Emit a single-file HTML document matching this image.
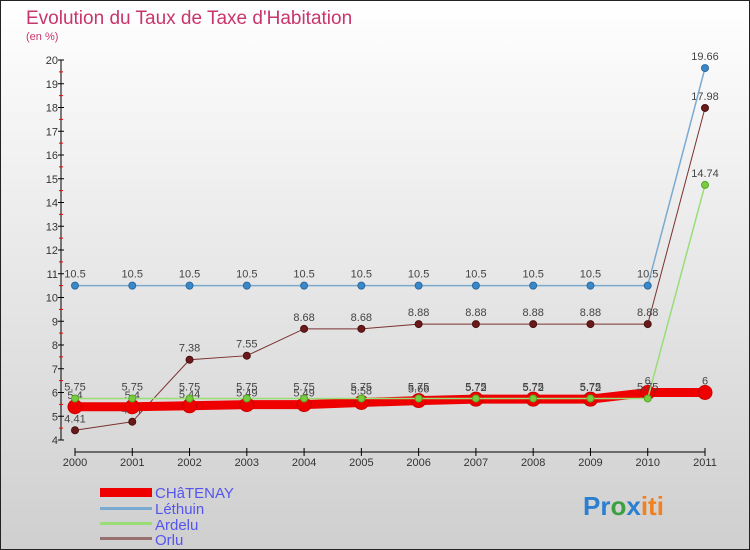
<!DOCTYPE html>
<html><head><meta charset="utf-8"><style>
body{margin:0;width:750px;height:550px;overflow:hidden;font-family:"Liberation Sans",sans-serif}
svg{display:block}
</style></head><body>
<svg id="chart" width="750" height="550" xmlns="http://www.w3.org/2000/svg">
<defs><linearGradient id="bg" x1="0" y1="0" x2="0" y2="1"><stop offset="0" stop-color="#ffffff"/><stop offset="1" stop-color="#cfcfcf"/></linearGradient></defs>
<rect x="0.5" y="0.5" width="749" height="549" fill="url(#bg)" stroke="#222" stroke-width="1"/>
<text x="26" y="24" font-size="19" fill="#c8356c">Evolution du Taux de Taxe d'Habitation</text>
<text x="26" y="40" font-size="11" fill="#c8356c">(en %)</text>
<g id="axes"></g>
<g id="series"></g>
<g id="legend">
<rect x="100" y="488" width="52" height="9" fill="#e00"/>
<text x="155" y="498" font-size="15" fill="#5555ee">CHâTENAY</text>
<rect x="100" y="507" width="52" height="3" fill="#7aaad0"/>
<text x="155" y="514" font-size="15" fill="#5555ee">Léthuin</text>
<rect x="100" y="522" width="52" height="3" fill="#99dd77"/>
<text x="155" y="530" font-size="15" fill="#5555ee">Ardelu</text>
<rect x="100" y="537" width="52" height="3" fill="#997070"/>
<text x="155" y="545" font-size="15" fill="#5555ee">Orlu</text>
</g>
<g font-size="26" font-weight="bold">
<text x="583" y="515"><tspan fill="#2a7fd0">Pr</tspan><tspan fill="#3aa040">o</tspan><tspan fill="#2a7fd0">x</tspan><tspan fill="#f08020">iti</tspan></text>
</g>
</svg>
<script>
const years=[2000,2001,2002,2003,2004,2005,2006,2007,2008,2009,2010,2011];
const chatenay=[5.4,5.4,5.44,5.49,5.49,5.58,5.66,5.72,5.72,5.72,6,6];
const lethuin=[10.5,10.5,10.5,10.5,10.5,10.5,10.5,10.5,10.5,10.5,10.5,19.66];
const ardelu=[5.75,5.75,5.75,5.75,5.75,5.75,5.75,5.75,5.75,5.75,5.75,14.74];
const orlu=[4.41,4.77,7.38,7.55,8.68,8.68,8.88,8.88,8.88,8.88,8.88,17.98];
const yTicks=[4,5,6,7,8,9,10,11,12,13,14,15,16,17,18,19,20];
const NS="http://www.w3.org/2000/svg";
const xs=i=>75+i*(630/(years.length-1));
const ys=v=>440-(v-4)*23.75;
function mk(tag,attrs,parent){const e=document.createElementNS(NS,tag);for(const k in attrs)e.setAttribute(k,attrs[k]);parent.appendChild(e);return e;}
const ax=document.getElementById('axes'),sr=document.getElementById('series');
let e=mk('line',{x1:61,y1:ys(20),x2:61,y2:ys(4),stroke:'#000'},ax);


yTicks.forEach(t=>{mk('line',{x1:58,x2:64,y1:ys(t),y2:ys(t),stroke:'#000'},ax);
 if(t<20)mk('line',{x1:59,x2:63,y1:ys(t+0.5),y2:ys(t+0.5),stroke:'#e00'},ax);
 const l=mk('text',{x:58,y:ys(t)+4,'text-anchor':'end','font-size':11,fill:'#333'},ax);l.textContent=t;
 
 });
e=mk('line',{x1:75,x2:705,y1:452,y2:452,stroke:'#000'},ax);


years.forEach((y,i)=>{mk('line',{x1:xs(i),x2:xs(i),y1:448,y2:456,stroke:'#000'},ax);
 const l=mk('text',{x:xs(i),y:466,'text-anchor':'middle','font-size':11,fill:'#333'},ax);l.textContent=y;
 
 });
function series(name,data,color,w,r,dot,dotStroke){
 const g=mk('g',{},sr);
 
 
 mk('polyline',{points:data.map((v,i)=>xs(i)+','+ys(v)).join(' '),fill:'none',stroke:color,'stroke-width':w},g);
 data.forEach((v,i)=>{const c=mk('circle',{cx:xs(i),cy:ys(v),r:r,fill:dot,stroke:dotStroke,'stroke-width':1},g);
  
  
  const t=mk('text',{x:xs(i),y:ys(v)-8,'text-anchor':'middle','font-size':11,fill:'#444'},g);t.textContent=v;
  
  });
}
series('orlu',orlu,'#7a3030',1,3.5,'#6a1a1a','#4a1010');
series('lethuin',lethuin,'#7aaad0',1.5,3.5,'#3a88c8','#2a6aa0');
series('chatenay',chatenay,'#ee0000',9,7,'#ee0000','#cc0000');
series('ardelu',ardelu,'#99dd77',1.5,3.5,'#77cc44','#55aa22');
</script>
</body></html>
